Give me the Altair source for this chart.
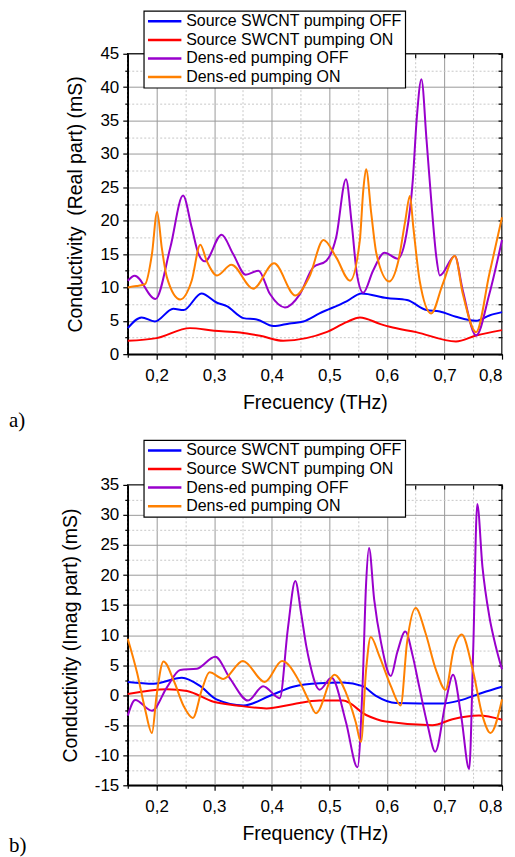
import altair as alt
import pandas as pd

SERIES = ["Source SWCNT pumping OFF", "Source SWCNT pumping ON",
          "Dens-ed pumping OFF", "Dens-ed pumping ON"]
COLORS = ["#0000ff", "#ff0000", "#9900cc", "#ff8000"]

X_TICKS = [0.15, 0.2, 0.25, 0.3, 0.35, 0.4, 0.45, 0.5, 0.55, 0.6, 0.65, 0.7, 0.75, 0.8]
YA_TICKS = [0, 2.5, 5, 7.5, 10, 12.5, 15, 17.5, 20, 22.5, 25, 27.5, 30, 32.5, 35, 37.5, 40, 42.5, 45]
YB_TICKS = [-15, -12.5, -10, -7.5, -5, -2.5, 0, 2.5, 5, 7.5, 10, 12.5, 15, 17.5, 20, 22.5, 25, 27.5, 30, 32.5, 35]

# ---------------- panel a (real part) ----------------
a_blue_x = [0.15, 0.174, 0.197, 0.229, 0.247, 0.278, 0.305, 0.322, 0.351, 0.374, 0.403, 0.431, 0.455,
            0.483, 0.530, 0.556, 0.600, 0.635, 0.669, 0.692, 0.720, 0.755, 0.778, 0.8]
a_blue_y = [3.9, 5.5, 4.9, 6.8, 6.6, 9.1, 7.7, 7.2, 5.4, 5.2, 4.2, 4.6, 4.9,
            6.1, 7.9, 9.1, 8.4, 8.1, 6.6, 6.4, 5.6, 5.0, 5.8, 6.3]

a_red_x = [0.15, 0.2, 0.258, 0.3, 0.345, 0.38, 0.42, 0.46, 0.495, 0.530, 0.553, 0.589, 0.605, 0.651,
           0.720, 0.755, 0.8]
a_red_y = [2.0, 2.4, 3.9, 3.5, 3.25, 2.75, 2.0, 2.4, 3.3, 4.8, 5.5, 4.5, 4.1, 3.3,
           1.9, 2.8, 3.6]

a_purple_x = [0.15, 0.162, 0.198, 0.224, 0.246, 0.261, 0.273, 0.284, 0.313, 0.333, 0.355, 0.377, 0.397,
              0.423, 0.449, 0.472, 0.495, 0.512, 0.529, 0.539, 0.548, 0.559, 0.576, 0.596, 0.619, 0.634,
              0.645, 0.652, 0.660, 0.669, 0.678, 0.686, 0.692, 0.718, 0.732, 0.755, 0.778, 0.8]
a_purple_y = [11.0, 11.75, 8.25, 16.0, 23.75, 19.0, 15.0, 13.9, 17.9, 15.0, 11.9, 12.5, 9.0,
              7.0, 9.0, 13.0, 14.0, 17.5, 26.2, 19.5, 12.0, 9.2, 12.5, 15.2, 14.3, 18.0,
              26.0, 35.4, 41.2, 32.0, 22.0, 14.5, 11.8, 14.7, 9.5, 2.8, 9.0, 17.1]

a_orange_x = [0.15, 0.165, 0.18, 0.192, 0.201, 0.209, 0.218, 0.241, 0.261, 0.276, 0.287, 0.305, 0.330,
              0.368, 0.404, 0.441, 0.465, 0.490, 0.512, 0.536, 0.553, 0.559, 0.564, 0.573, 0.582, 0.604,
              0.620, 0.632, 0.640, 0.646, 0.657, 0.677, 0.697, 0.718, 0.732, 0.755, 0.778, 0.8]
a_orange_y = [10.0, 10.2, 10.5, 15.0, 21.3, 16.0, 11.5, 8.2, 11.0, 16.4, 14.0, 11.8, 13.4,
              9.8, 13.6, 8.8, 11.5, 17.1, 14.5, 11.0, 17.0, 24.5, 27.7, 21.0, 15.0, 10.9,
              14.0, 20.0, 23.7, 19.0, 11.0, 6.1, 10.5, 14.7, 9.0, 3.3, 12.0, 20.5]

# ---------------- panel b (imaginary part) ----------------
b_blue_x = [0.15, 0.195, 0.244, 0.276, 0.304, 0.351, 0.397, 0.437, 0.483, 0.524, 0.558, 0.581, 0.616,
            0.697, 0.726, 0.766, 0.8]
b_blue_y = [2.2, 1.9, 2.9, 1.5, -0.7, -1.7, -0.1, 1.4, 2.0, 2.1, 1.5, -0.1, -1.3,
            -1.4, -0.9, 0.4, 1.4]

b_red_x = [0.15, 0.218, 0.253, 0.299, 0.339, 0.391, 0.437, 0.483, 0.524, 0.564, 0.598, 0.679, 0.714,
           0.760, 0.8]
b_red_y = [0.2, 1.0, 0.7, -1.1, -1.7, -2.2, -1.5, -0.9, -0.9, -3.3, -4.4, -5.0, -4.0,
           -3.4, -4.1]

b_purple_x = [0.15, 0.163, 0.192, 0.218, 0.241, 0.270, 0.302, 0.328, 0.359, 0.385, 0.414, 0.428, 0.441,
              0.451, 0.460, 0.466, 0.483, 0.504, 0.529, 0.549, 0.558, 0.564, 0.569, 0.578, 0.590, 0.607,
              0.618, 0.632, 0.645, 0.656, 0.671, 0.684, 0.703, 0.715, 0.729, 0.743, 0.750, 0.757,
              0.766, 0.778, 0.789, 0.8]
b_purple_y = [-3.4, -0.8, -2.6, 1.3, 4.2, 4.4, 6.4, 2.7, -0.9, 1.5, -0.5, 11.0, 19.0,
              13.7, 8.2, 5.4, 0.9, 2.9, -4.5, -12.0, 2.1, 18.7, 24.5, 15.9, 8.7, 3.2,
              7.1, 10.6, 6.5, 1.5, -5.1, -9.4, -0.7, 3.4, -3.4, -12.3, 7.6, 31.8,
              21.4, 13.1, 8.2, 4.3]

b_orange_x = [0.15, 0.166, 0.180, 0.192, 0.200, 0.212, 0.230, 0.247, 0.263, 0.279, 0.292, 0.316, 0.350,
              0.388, 0.418, 0.449, 0.466, 0.477, 0.509, 0.529, 0.546, 0.555, 0.564, 0.572, 0.587, 0.607,
              0.624, 0.635, 0.650, 0.667, 0.685, 0.702, 0.716, 0.730, 0.749, 0.766, 0.780, 0.8]
b_orange_y = [9.4, 3.8, -2.3, -6.3, -0.1, 5.6, 2.4, -1.8, -3.8, 1.0, 3.8, 2.7, 5.7,
              2.2, 5.7, 2.1, -1.2, -3.0, 3.4, 0.4, -4.5, -7.8, 4.3, 9.7, 6.5, 1.5,
              -1.7, 8.7, 14.5, 10.4, 4.3, 0.9, 7.6, 10.1, 4.3, -3.4, -6.3, -0.7]


def long_df(groups):
    rows = []
    for name, xs, ys in groups:
        for x, y in zip(xs, ys):
            rows.append({"f": x, "v": y, "s": name})
    return pd.DataFrame(rows)


df_a = long_df([(SERIES[0], a_blue_x, a_blue_y), (SERIES[1], a_red_x, a_red_y),
                (SERIES[2], a_purple_x, a_purple_y), (SERIES[3], a_orange_x, a_orange_y)])
df_b = long_df([(SERIES[0], b_blue_x, b_blue_y), (SERIES[1], b_red_x, b_red_y),
                (SERIES[2], b_purple_x, b_purple_y), (SERIES[3], b_orange_x, b_orange_y)])

W, H = 375, 301
FONT = "Liberation Sans"
XMINOR = "round(datum.value*20) % 2 == 1"
YMINOR = "round(datum.value*2) % 2 != 0"


def panel(df, yticks, ydomain, ytitle, xtitle, tag, tag_dy, leg_y):
    xs = alt.Scale(domain=[0.15, 0.8], nice=False, zero=False)
    ys = alt.Scale(domain=ydomain, nice=False, zero=False)
    x_axis = alt.Axis(
        orient="bottom", values=X_TICKS, title=xtitle, grid=True,
        labelExpr=f"{XMINOR} ? '' : replace(format(datum.value, '.1f'), '.', ',')",
        labelFlush=True, labelOverlap=False, labelPadding=8, titlePadding=10,
        tickSize={"condition": {"test": XMINOR, "value": 3}, "value": 5},
        gridDash={"condition": {"test": XMINOR, "value": [2, 2]}, "value": []},
        gridColor={"condition": {"test": XMINOR, "value": "#c8c8c8"}, "value": "#9a9a9a"},
    )
    y_axis = alt.Axis(
        orient="left", values=yticks, title=ytitle, grid=True,
        labelExpr=f"{YMINOR} ? '' : '' + datum.value",
        labelFlush=False, labelOverlap=False, labelPadding=4, titlePadding=14,
        tickSize={"condition": {"test": YMINOR, "value": 3}, "value": 5},
        gridDash={"condition": {"test": YMINOR, "value": [2, 2]}, "value": []},
        gridColor={"condition": {"test": YMINOR, "value": "#c8c8c8"}, "value": "#9a9a9a"},
    )
    lines = alt.Chart(df).mark_line(interpolate="monotone", strokeWidth=2).encode(
        x=alt.X("f:Q", scale=xs, axis=x_axis),
        y=alt.Y("v:Q", scale=ys, axis=y_axis),
        color=alt.Color("s:N", scale=alt.Scale(domain=SERIES, range=COLORS),
                        legend=alt.Legend(
                            title=None, orient="none", legendX=16, legendY=leg_y,
                            symbolType="M-0.96,0H4.19", symbolSize=169, symbolStrokeWidth=2.5,
                            labelFont=FONT, labelFontSize=16, labelColor="black",
                            labelOffset=24, labelLimit=0, rowPadding=2.6,
                            fillColor="white", strokeColor="black", padding=2.5)),
    )
    inner = alt.Chart(df).mark_line(strokeOpacity=0).encode(
        x=alt.X("f:Q", scale=xs, axis=alt.Axis(orient="top", values=X_TICKS, labels=False, title=None,
                                                domain=False, grid=False, tickSize=4, offset=-4)),
        y=alt.Y("v:Q", scale=ys, axis=alt.Axis(orient="right", values=yticks, labels=False, title=None,
                                                domain=False, grid=False, tickSize=4, offset=-4)),
    )
    label = alt.Chart(pd.DataFrame({"t": [tag]})).mark_text(
        font="Liberation Serif", fontSize=21, align="left", baseline="middle", color="black"
    ).encode(text="t:N", x=alt.value(-119), y=alt.value(H + tag_dy))
    return alt.layer(lines, inner, label).resolve_axis(x="independent", y="independent").properties(
        width=W, height=H)


pa = panel(df_a, YA_TICKS, [0, 45], "Conductivity\u00a0 (Real part) (mS)", "Frecuency (THz)", "a)", 67, -43)
pb = panel(df_b, YB_TICKS, [-15, 35], "Conductivity (Imag part) (mS)", "Frequency (THz)", "b)", 61, -45)

chart = alt.vconcat(pa, pb, spacing=6).resolve_scale(color="independent").resolve_legend(
    color="independent").properties(padding=0).configure_view(
    stroke="black", strokeWidth=1.5
).configure_axis(
    labelFont=FONT, labelFontSize=17, labelColor="black",
    titleFont=FONT, titleFontSize=19.5, titleFontWeight="normal", titleColor="black",
    domainColor="black", domainWidth=1.5, tickColor="black", tickWidth=1.2, gridWidth=1,
).configure_legend(strokeWidth=1.2)

chart.save("out.html", embed_options={"renderer": "svg", "actions": False})
